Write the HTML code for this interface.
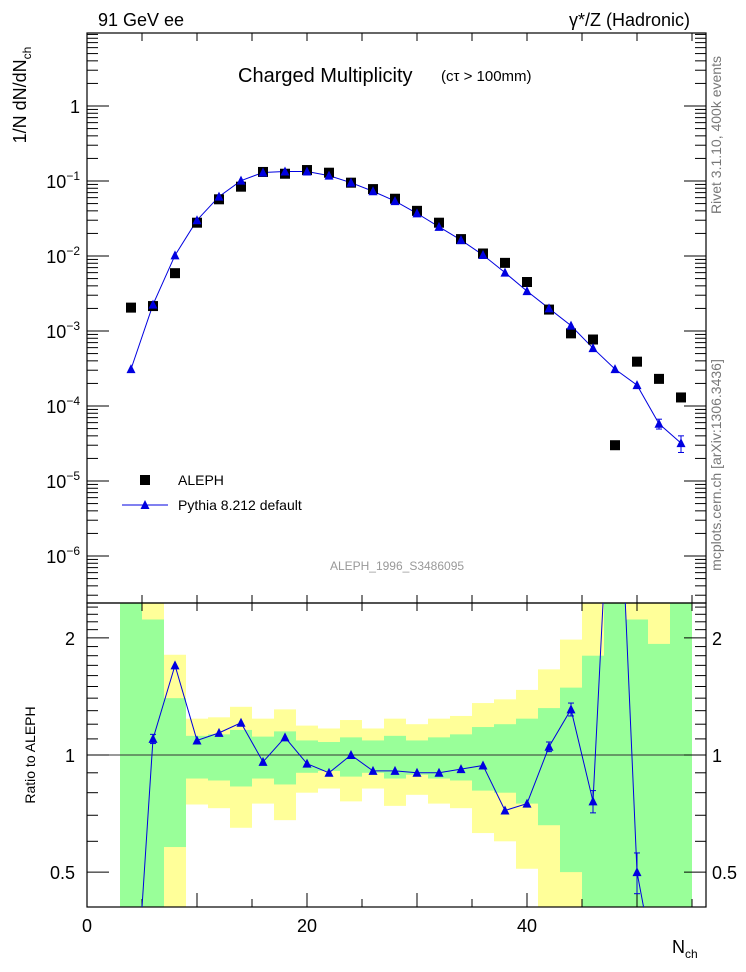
<!DOCTYPE html>
<html><head><meta charset="utf-8">
<style>
html,body{margin:0;padding:0;background:#fff;overflow:hidden;width:746px;height:972px;}
svg{display:block;font-family:"Liberation Sans",sans-serif;}
</style></head>
<body>
<svg id="chart" width="746" height="972" viewBox="0 0 746 972">
<g id="bands"></g>
<g id="grid"></g>
<g id="marks"></g>
<text x="98" y="26" font-size="18">91 GeV ee</text>
<text x="690" y="26" font-size="18" text-anchor="end">γ*/Z (Hadronic)</text>
<text x="238" y="82" font-size="20">Charged Multiplicity</text>
<text x="441" y="81" font-size="15">(cτ &gt; 100mm)</text>
<text transform="translate(26,95) rotate(-90)" font-size="18" text-anchor="middle">1/N dN/dN<tspan font-size="12" dy="5">ch</tspan></text>
<text transform="translate(35,755) rotate(-90)" font-size="14" text-anchor="middle">Ratio to ALEPH</text>
<text transform="translate(721,135) rotate(-90)" font-size="14" fill="#777" text-anchor="middle">Rivet 3.1.10, 400k events</text>
<text transform="translate(721,465) rotate(-90)" font-size="14" fill="#777" text-anchor="middle">mcplots.cern.ch [arXiv:1306.3436]</text>
<text x="397" y="570" font-size="12" fill="#999" text-anchor="middle">ALEPH_1996_S3486095</text>
<g>
<rect x="140" y="475" width="10" height="10" fill="#000"/>
<text x="178" y="485" font-size="14">ALEPH</text>
<line x1="122" y1="505" x2="168" y2="505" stroke="#0000e0" stroke-width="1"/>
<polygon points="145,500 149.5,509 140.5,509" fill="#0000e0"/>
<text x="178" y="510" font-size="14">Pythia 8.212 default</text>
</g>
<text x="672" y="953" font-size="18">N<tspan font-size="12" dy="5">ch</tspan></text>
</svg>
<script>
const nch = [4,6,8,10,12,14,16,18,20,22,24,26,28,30,32,34,36,38,40,42,44,46,48,50,52,54];
const alephVals = [2.05e-3,2.15e-3,5.9e-3,0.0278,0.057,0.084,0.132,0.125,0.140,0.129,0.095,0.078,0.058,0.040,0.0278,0.0168,0.0108,0.0081,0.0045,1.93e-3,9.3e-4,7.7e-4,3.0e-5,3.9e-4,2.3e-4,1.3e-4];
const pythiaVals = [3.1e-4,2.25e-3,0.0102,0.030,0.062,0.101,0.13,0.134,0.134,0.118,0.095,0.073,0.054,0.037,0.0245,0.0163,0.0103,0.0060,0.0034,2.0e-3,1.18e-3,5.9e-4,3.1e-4,1.9e-4,5.8e-5,3.2e-5];
const pythiaErr = [0,0,0,0,0,0,0,0,0,0,0,0,0,0,0,0,0,0,0,0,0,0,0,0,0.15,0.25];
const ratioVals = [0.15,1.10,1.70,1.09,1.14,1.21,0.96,1.11,0.95,0.90,1.0,0.91,0.91,0.90,0.90,0.92,0.94,0.72,0.75,1.05,1.31,0.76,10,0.50,0.25,0.25];
const ratioErr = [0,0.03,0,0,0,0,0,0,0,0,0,0,0,0,0,0,0,0,0,0.03,0.05,0.05,0,0.06,0,0];
const greenHi = [3,2.23,1.40,1.12,1.13,1.16,1.115,1.15,1.09,1.08,1.11,1.09,1.12,1.09,1.11,1.13,1.18,1.20,1.24,1.32,1.49,1.80,3,2.23,1.93,3];
const greenLo = [0.3,0.3,0.58,0.87,0.86,0.83,0.87,0.84,0.90,0.91,0.88,0.90,0.87,0.89,0.87,0.86,0.81,0.80,0.75,0.66,0.50,0.3,0.3,0.3,0.3,0.3];
const yellowHi = [3,3,1.81,1.24,1.25,1.33,1.24,1.31,1.19,1.17,1.23,1.17,1.24,1.20,1.24,1.26,1.36,1.39,1.47,1.66,1.98,3,3,3,3,3];
const yellowLo = [0.3,0.3,0.3,0.746,0.73,0.65,0.75,0.68,0.80,0.82,0.76,0.82,0.74,0.79,0.75,0.73,0.63,0.60,0.51,0.3,0.3,0.3,0.3,0.3,0.3,0.3];
const mainTickLabels = ["10⁻⁶","10⁻⁵","10⁻⁴","10⁻³","10⁻²","10⁻¹","1"];
const xTickLabels = ["0","20","40"];

const NS="http://www.w3.org/2000/svg";
const L=87,R=706,T=33,MB=603,RB=907;
const px=x=>L+11*x;
const py=v=>106-75*Math.log10(v);
const ry=r=>755-389*Math.log10(r);
function mk(tag,attrs,parent){const e=document.createElementNS(NS,tag);for(const k in attrs)e.setAttribute(k,attrs[k]);parent.appendChild(e);return e;}
const bands=document.getElementById('bands'),grid=document.getElementById('grid'),marks=document.getElementById('marks');
const clamp=(y,a,b)=>Math.max(a,Math.min(b,y));

nch.forEach((x,i)=>{
  const x0=px(x-1),w=22;
  let y1=clamp(ry(yellowHi[i]),MB,RB),y2=clamp(ry(yellowLo[i]),MB,RB);
  const yb=mk('rect',{x:x0,y:y1,width:w,height:y2-y1,fill:'#ffff99'},bands);
  
  
  y1=clamp(ry(greenHi[i]),MB,RB);y2=clamp(ry(greenLo[i]),MB,RB);
  const gb=mk('rect',{x:x0,y:y1,width:w,height:y2-y1,fill:'#99ff99'},bands);
  
  
});

const f1=mk('rect',{x:L,y:T,width:R-L,height:MB-T,fill:'none',stroke:'#000','stroke-width':1.2},grid);


const f2=mk('rect',{x:L,y:MB,width:R-L,height:RB-MB,fill:'none',stroke:'#000','stroke-width':1.2},grid);


const one=mk('line',{x1:L,x2:R,y1:ry(1),y2:ry(1),stroke:'#333','stroke-width':1},grid);



for(let d=-7;d<=0;d++){
  for(let m=1;m<10;m++){
    const v=m*Math.pow(10,d);const y=py(v);
    if(y<T||y>MB)continue;
    const len=m===1?22:11;
    mk('line',{x1:L,x2:L+len,y1:y,y2:y,stroke:'#000'},grid);
    mk('line',{x1:R,x2:R-len,y1:y,y2:y,stroke:'#000'},grid);
  }
}
mainTickLabels.forEach((s,i)=>{
  const v=Math.pow(10,i-6);
  const t=mk('text',{x:80,y:py(v)+7,'font-size':18,'text-anchor':'end'},grid);
  if(s==="1"){t.textContent="1";}
  else{t.textContent="10";const sp=mk('tspan',{'font-size':12,dy:-8},t);sp.textContent="−"+(6-i);}
  
  
});
for(let x=0;x<=56;x+=5){
  const X=px(x);
  const len=x%10===0?14:8;
  mk('line',{x1:X,x2:X,y1:T,y2:T+8,stroke:'#000'},grid);
  mk('line',{x1:X,x2:X,y1:MB,y2:MB-8,stroke:'#000'},grid);
  mk('line',{x1:X,x2:X,y1:MB,y2:MB+8,stroke:'#000'},grid);
  mk('line',{x1:X,x2:X,y1:RB,y2:RB-len,stroke:'#000'},grid);
}
xTickLabels.forEach((s,i)=>{
  const t=mk('text',{x:px(i*20),y:932,'font-size':18,'text-anchor':'middle'},grid);
  t.textContent=s;
  
  
});
for(let k=4;k<=24;k++){
  const r=k/10;const y=ry(r);if(y<MB||y>RB)continue;
  const len=(k===5||k===10||k===20)?22:11;
  mk('line',{x1:L,x2:L+len,y1:y,y2:y,stroke:'#000'},grid);
  mk('line',{x1:R,x2:R-len,y1:y,y2:y,stroke:'#000'},grid);
}
[["2",2],["1",1],["0.5",0.5]].forEach(([s,r])=>{
  const a=mk('text',{x:75,y:ry(r)+7,'font-size':18,'text-anchor':'end'},grid);a.textContent=s;
  
  
  const b=mk('text',{x:712,y:ry(r)+7,'font-size':18},grid);b.textContent=s;
  
  
});

const defs=mk('defs',{},marks);
const cp=mk('clipPath',{id:'rclip'},defs);mk('rect',{x:L,y:MB,width:R-L,height:RB-MB},cp);

const line=mk('polyline',{points:nch.map((x,i)=>px(x)+','+py(pythiaVals[i])).join(' '),fill:'none',stroke:'#0000e0','stroke-width':1},marks);


function tri(x,y,name){const p=mk('polygon',{points:`${x},${y-5} ${x+4.5},${y+4} ${x-4.5},${y+4}`,fill:'#0000e0'},marks);
  
  }
nch.forEach((x,i)=>{
  const X=px(x);
  const sq=mk('rect',{x:X-5,y:py(alephVals[i])-5,width:10,height:10,fill:'#000'},marks);
  
  
  const Y=py(pythiaVals[i]);
  if(pythiaErr[i]>0){
    const e=pythiaErr[i];const y1=py(pythiaVals[i]*(1+e)),y2=py(pythiaVals[i]*(1-e));
    mk('line',{x1:X,x2:X,y1:y1,y2:y2,stroke:'#0000e0'},marks);
    mk('line',{x1:X-3,x2:X+3,y1:y1,y2:y1,stroke:'#0000e0'},marks);
    mk('line',{x1:X-3,x2:X+3,y1:y2,y2:y2,stroke:'#0000e0'},marks);
  }
  tri(X,Y,'pythia-point');
});
const rg=mk('g',{'clip-path':'url(#rclip)'},marks);
const rl=mk('polyline',{points:nch.map((x,i)=>px(x)+','+ry(ratioVals[i])).join(' '),fill:'none',stroke:'#0000e0','stroke-width':1},rg);


nch.forEach((x,i)=>{
  const X=px(x),Y=ry(ratioVals[i]);
  if(Y<MB||Y>RB)return;
  if(ratioErr[i]>0){
    const y1=ry(ratioVals[i]+ratioErr[i]),y2=ry(ratioVals[i]-ratioErr[i]);
    mk('line',{x1:X,x2:X,y1:y1,y2:y2,stroke:'#0000e0'},rg);
    mk('line',{x1:X-3,x2:X+3,y1:y1,y2:y1,stroke:'#0000e0'},rg);
    mk('line',{x1:X-3,x2:X+3,y1:y2,y2:y2,stroke:'#0000e0'},rg);
  }
  const p=mk('polygon',{points:`${X},${Y-5} ${X+4.5},${Y+4} ${X-4.5},${Y+4}`,fill:'#0000e0'},rg);
  
  
});
</script>
</body></html>
